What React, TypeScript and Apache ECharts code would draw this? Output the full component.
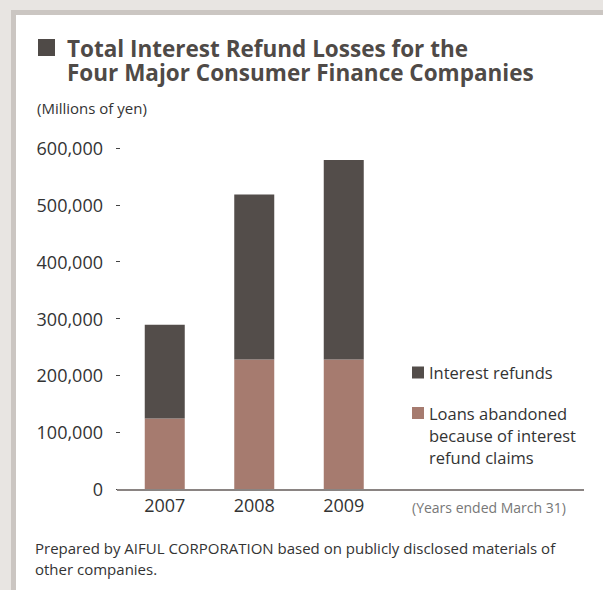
import React, { useEffect, useRef } from "react";
import * as echarts from "echarts";

const years = ["2007", "2008", "2009"];
const loansAbandoned = [124000, 228000, 228000];
const interestRefunds = [165000, 290000, 351000];
const yMin = 0;
const yMax = 600000;
const yInterval = 100000;

const titleLine1 = "Total Interest Refund Losses for the";
const titleLine2 = "Four Major Consumer Finance Companies";
const unitText = "(Millions of yen)";
const periodText = "(Years ended March 31)";
const footerText =
  "Prepared by AIFUL CORPORATION based on publicly disclosed materials of\nother companies.";
const seriesRefunds = "Interest refunds";
const seriesLoans = "Loans abandoned\nbecause of interest\nrefund claims";

const FONT = "'Open Sans', 'Noto Sans', sans-serif";
const DARK = "#534d4a";
const BROWN = "#a67b6f";

export default function App() {
  const ref = useRef<HTMLDivElement>(null);
  useEffect(() => {
    if (!ref.current) return;
    const chart = echarts.init(ref.current, null, { renderer: "svg" });
    const titleStyle = {
      fontFamily: FONT,
      fontSize: 22.5,
      fontWeight: "bold",
      color: "#4f4a47",
      lineHeight: 24,
    };
    chart.setOption({
      animation: false,
      backgroundColor: "#e8e5e2",
      textStyle: { fontFamily: FONT },
      graphic: [
        {
          type: "rect",
          z: -10,
          shape: { x: 13.5, y: 12.5, width: 700, height: 700 },
          style: { fill: "#ffffff", stroke: "#cbc6c2", lineWidth: 5 },
        },
        {
          type: "rect",
          z: 1,
          shape: { x: 38, y: 39, width: 17, height: 17 },
          style: { fill: "#4f4a47" },
        },
        {
          type: "line",
          z: 5,
          shape: { x1: 117, y1: 490, x2: 584, y2: 490 },
          style: { stroke: "#8a8482", lineWidth: 2 },
        },
      ],
      title: [
        { text: titleLine1, left: 67, top: 36, padding: 0, textStyle: titleStyle },
        { text: titleLine2, left: 67, top: 60, padding: 0, textStyle: titleStyle },
        {
          text: unitText,
          left: 37,
          top: 98,
          padding: 0,
          textStyle: { fontFamily: FONT, fontSize: 15, fontWeight: "normal", color: "#333", lineHeight: 20 },
        },
        {
          text: periodText,
          left: 412,
          top: 498,
          padding: 0,
          textStyle: { fontFamily: FONT, fontSize: 14, fontWeight: "normal", color: "#777", lineHeight: 18 },
        },
        {
          text: footerText,
          left: 35,
          top: 537.5,
          padding: 0,
          textStyle: { fontFamily: FONT, fontSize: 15, fontWeight: "normal", color: "#333", lineHeight: 21 },
        },
      ],
      legend: {
        orient: "vertical",
        left: 412,
        top: 358,
        padding: 0,
        itemWidth: 12,
        itemHeight: 12,
        itemGap: -25.5,
        icon: "rect",
        selectedMode: false,
        textStyle: { fontFamily: FONT, fontSize: 16.5, color: "#333", lineHeight: 22 },
        formatter: (name: string) => (name === seriesLoans ? "\n\n" + name : name),
        data: [{ name: seriesRefunds }, { name: seriesLoans }],
      },
      grid: { left: 120, width: 268.5, top: 148, bottom: 101 },
      xAxis: {
        type: "category",
        data: years,
        axisLine: { show: false },
        axisTick: { show: false },
        axisLabel: { fontFamily: FONT, fontSize: 18, color: "#333", margin: 7 },
      },
      yAxis: {
        type: "value",
        min: yMin,
        max: yMax,
        interval: yInterval,
        splitLine: { show: false },
        axisLine: { show: false },
        axisTick: { show: true, length: 4, lineStyle: { color: "#444", width: 1 } },
        axisLabel: {
          fontFamily: FONT,
          fontSize: 18,
          color: "#333",
          margin: 17,
          formatter: (v: number) => v.toLocaleString("en-US"),
        },
      },
      series: [
        {
          name: seriesLoans,
          type: "bar",
          stack: "total",
          barWidth: 40,
          data: loansAbandoned,
          itemStyle: { color: BROWN },
        },
        {
          name: seriesRefunds,
          type: "bar",
          stack: "total",
          barWidth: 40,
          data: interestRefunds,
          itemStyle: { color: DARK },
        },
      ],
    });
    return () => chart.dispose();
  }, []);
  return (
    <div
      ref={ref}
      style={{ position: "fixed", left: 0, top: 0, width: 603, height: 590 }}
    />
  );
}
